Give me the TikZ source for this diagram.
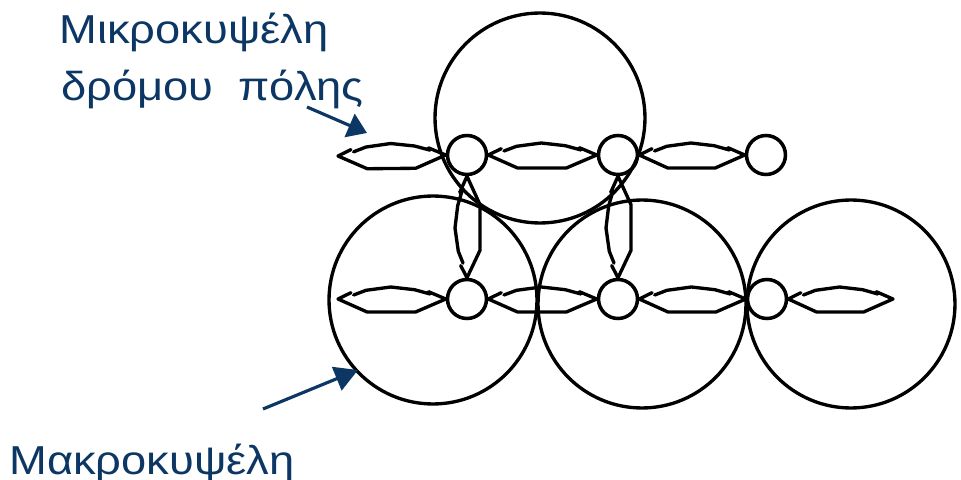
\documentclass[tikz,border=0pt]{standalone}
\usepackage{fontspec}
\setmainfont{Liberation Sans}
\newfontfamily\lblfont[FakeStretch=1.12]{Liberation Sans}
\usetikzlibrary{calc,arrows.meta}
\definecolor{labelblue}{RGB}{12,55,100}
\tikzset{
  lens/.style={line width=1.9pt, line join=round, line cap=round, to path={
    (\tikztostart) -- ($(\tikztostart)!0.12!(\tikztotarget)!0.126cm!90:(\tikztotarget)$)
    ($(\tikztostart)!0.145!(\tikztotarget)!0.08cm!90:(\tikztotarget)$)
    -- ($(\tikztostart)!0.26!(\tikztotarget)!0.174cm!90:(\tikztotarget)$)
    -- ($(\tikztostart)!0.49!(\tikztotarget)!0.24cm!90:(\tikztotarget)$)
    -- ($(\tikztostart)!0.71!(\tikztotarget)!0.186cm!90:(\tikztotarget)$)
    -- ($(\tikztostart)!0.855!(\tikztotarget)!0.1cm!90:(\tikztotarget)$)
    ($(\tikztostart)!0.84!(\tikztotarget)!0.146cm!90:(\tikztotarget)$)
    -- (\tikztotarget)
    -- ($(\tikztostart)!0.72!(\tikztotarget)!0.26cm!270:(\tikztotarget)$)
    -- ($(\tikztostart)!0.27!(\tikztotarget)!0.26cm!270:(\tikztotarget)$)
    -- (\tikztostart)
  }},
  small/.style={circle, draw, line width=2pt, minimum size=0.78cm, inner sep=0pt},
  big/.style={circle, draw, line width=1.9pt, inner sep=0pt},
  lbl/.style={text=labelblue, font=\lblfont\fontsize{23}{27}\selectfont, inner sep=0pt},
  barrow/.style={draw=labelblue, fill=labelblue, line width=1.8pt}
}
\begin{document}
\begin{tikzpicture}[x=0.02cm, y=-0.02cm]
\useasboundingbox (0,0) rectangle (961,480);
% big circles
\node[big, minimum size=4.2cm] (M0) at (540,118) {};
\node[big, minimum size=4.16cm] (M1) at (433,300) {};
\node[big, minimum size=4.16cm] (M2) at (642,304) {};
\node[big, minimum size=4.16cm] (M3) at (851,304) {};
% small circles
\node[small] (t1) at (467,155) {};
\node[small] (t2) at (618,155) {};
\node[small] (t3) at (766,155) {};
\node[small] (b1) at (467,299) {};
\node[small] (b2) at (618,299) {};
\node[small] (b3) at (767,299) {};
% free ends
\coordinate (tl) at (338,156);
\coordinate (bl) at (338,299);
\coordinate (br) at (893,299);
% lenses
\draw[lens] (tl) to (t1.west);
\draw[lens] (t1.east) to (t2.west);
\draw[lens] (t2.east) to (t3.west);
\draw[lens] (bl) to (b1.west);
\draw[lens] (b1.east) to (b2.west);
\draw[lens] (b2.east) to (b3.west);
\draw[lens] (b3.east) to (br);
\draw[lens] (b1.north) to (t1.south);
\draw[lens] (b2.north) to (t2.south);
% labels
\node[lbl, anchor=base west] (micro) at (59,43) {Μικροκυψέλη};
\node[lbl, anchor=base west] (road) at (61,100) {δρόμου\ \ πόλης};
\node[lbl, anchor=base west] (macro) at (9,474) {Μακροκυψέλη};
% arrows
\coordinate (a1s) at (307,107);
\coordinate (a1e) at (367,133);
\coordinate (a2s) at (263,409);
\coordinate (a2e) at (358,370);
\draw[barrow, -{Triangle[length=0.38cm,width=0.5cm]}] (a1s) -- (a1e);
\draw[barrow, -{Triangle[length=0.46cm,width=0.5cm]}] (a2s) -- (a2e);
\end{tikzpicture}
\end{document}
